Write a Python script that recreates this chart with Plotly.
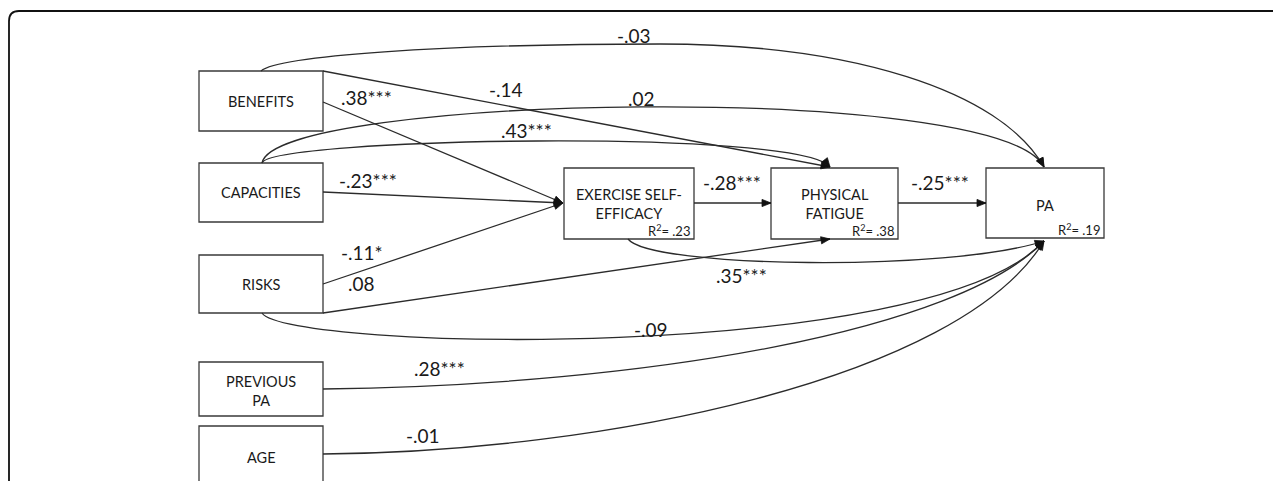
import plotly.graph_objects as go

# ---------------- data ----------------
node_names = ["BENEFITS", "CAPACITIES", "RISKS", "PREVIOUS<br>PA", "AGE",
              "EXERCISE SELF-<br>EFFICACY", "PHYSICAL<br>FATIGUE", "PA"]
r2_nodes = ["EXERCISE SELF-<br>EFFICACY", "PHYSICAL<br>FATIGUE", "PA"]
r2_values = [".23", ".38", ".19"]

path_from = ["BENEFITS", "BENEFITS", "BENEFITS", "CAPACITIES", "CAPACITIES", "CAPACITIES",
             "RISKS", "RISKS", "RISKS", "EXERCISE SELF-<br>EFFICACY", "EXERCISE SELF-<br>EFFICACY",
             "PHYSICAL<br>FATIGUE", "PREVIOUS<br>PA", "AGE"]
path_to = ["PA", "EXERCISE SELF-<br>EFFICACY", "PHYSICAL<br>FATIGUE", "PA", "PHYSICAL<br>FATIGUE",
           "EXERCISE SELF-<br>EFFICACY", "EXERCISE SELF-<br>EFFICACY", "PHYSICAL<br>FATIGUE", "PA",
           "PHYSICAL<br>FATIGUE", "PA", "PA", "PA", "PA"]
path_coef = ["-.03", ".38***", "-.14", ".02", ".43***", "-.23***",
             "-.11*", ".08", "-.09", "-.28***", ".35***", "-.25***", ".28***", "-.01"]

# ---------------- geometry (pixel coordinates of the page) ----------------
W, H = 1281, 481
PAGE_OFF = 8  # default body margin of the html page
boxes = {  # x0, y0, x1, y1
    "BENEFITS": (199, 71, 323, 131),
    "CAPACITIES": (199, 163, 323, 222),
    "RISKS": (199, 255, 323, 313),
    "PREVIOUS<br>PA": (199, 362, 323, 416),
    "AGE": (199, 426, 323, 520),
    "EXERCISE SELF-<br>EFFICACY": (564, 168, 694, 239),
    "PHYSICAL<br>FATIGUE": (771, 168, 898, 239),
    "PA": (986, 168, 1104, 238),
}
text_y = {"AGE": 457, "PA": 205, "EXERCISE SELF-<br>EFFICACY": 204,
          "PHYSICAL<br>FATIGUE": 204, "PREVIOUS<br>PA": 391}

# each path: list of segments; a segment is straight [p0, p1] or cubic [p0, c1, c2, p3]
geom = [
    [[(261, 71), (278, 56), (440, 44), (660, 44)], [(660, 44), (850, 44), (1000, 90), (1044, 167)]],
    [[(323, 102), (563, 203)]],
    [[(323, 71), (830, 167)]],
    [[(262, 163), (275, 95), (1000, 80), (1044, 167)]],
    [[(262, 163), (270, 138), (800, 128), (830, 167)]],
    [[(323, 192), (563, 203)]],
    [[(323, 284), (563, 203)]],
    [[(323, 313), (830, 239)]],
    [[(262, 313), (285, 350), (930, 365), (1044, 241)]],
    [[(694, 203), (771, 203)]],
    [[(628, 239), (650, 268), (950, 272), (1044, 241)]],
    [[(898, 203), (986, 203)]],
    [[(323, 389), (650, 385), (960, 330), (1044, 241)]],
    [[(323, 454), (600, 452), (960, 380), (1044, 241)]],
]
label_pos = [(634, 35), (366, 97), (506, 89), (641, 98), (526, 130), (368, 180),
             (362, 252), (361, 283), (651, 329), (732, 182), (741, 275), (940, 182),
             (439, 368), (423, 435)]

LINE = "#2b2b2b"
TXT = "#1a1a1a"
BOX_FONT = "Lato, sans-serif"
COEF_FONT = "Lato, sans-serif"

fig = go.Figure()
fig.add_trace(go.Scatter(x=[PAGE_OFF, W], y=[PAGE_OFF, H], mode="markers",
                         marker=dict(opacity=0), hoverinfo="skip", showlegend=False))

shapes = []
annotations = []

# outer frame: left side, rounded top-left corner, top running off to the right
L, T, rr, B, R = 9, 11, 10, 540, 1400
shapes.append(dict(type="path", xref="x", yref="y",
                   path=f"M {L},{B} L {L},{T+rr} Q {L},{T} {L+rr},{T} L {R},{T}",
                   line=dict(color="#111", width=1.8)))

# boxes and their labels
for name in node_names:
    x0, y0, x1, y1 = boxes[name]
    shapes.append(dict(type="rect", xref="x", yref="y", x0=x0, y0=y0, x1=x1, y1=y1,
                       line=dict(color="#3a3a3a", width=1.3), fillcolor="rgba(0,0,0,0)"))
    cy = text_y.get(name, (y0 + y1) / 2)
    annotations.append(dict(x=(x0 + x1) / 2, y=cy, xref="x", yref="y", text=name,
                            showarrow=False,
                            font=dict(family=BOX_FONT, size=14.5, color=TXT)))

for name, v in zip(r2_nodes, r2_values):
    x0, y0, x1, y1 = boxes[name]
    annotations.append(dict(x=x1 - 2, y=y1 - 9, xref="x", yref="y", xanchor="right",
                            text=f"R<sup>2</sup>= {v}", showarrow=False,
                            font=dict(family=BOX_FONT, size=13, color=TXT)))


def fmt(p):
    return f"{p[0]},{p[1]}"


# paths with arrowheads and coefficient labels
for segs, coef, (lx, ly) in zip(geom, path_coef, label_pos):
    d = f"M {fmt(segs[0][0])}"
    for s in segs:
        if len(s) == 2:
            d += f" L {fmt(s[1])}"
        else:
            d += f" C {fmt(s[1])} {fmt(s[2])} {fmt(s[3])}"
    last = segs[-1]
    hx, hy = last[-1]
    tx, ty = hx - last[-2][0], hy - last[-2][1]
    n = (tx ** 2 + ty ** 2) ** 0.5
    ux, uy = tx / n, ty / n
    ln, hw = 9, 3.6
    bx, by = hx - ux * ln, hy - uy * ln
    shapes.append(dict(type="path", xref="x", yref="y", path=d,
                       line=dict(color=LINE, width=1.3)))
    tri = (f"M {hx},{hy} L {bx - uy * hw:.2f},{by + ux * hw:.2f} "
           f"L {bx + uy * hw:.2f},{by - ux * hw:.2f} Z")
    shapes.append(dict(type="path", xref="x", yref="y", path=tri,
                       line=dict(color="#111", width=0.8), fillcolor="#111"))
    annotations.append(dict(x=lx, y=ly, xref="x", yref="y", text=coef, showarrow=False,
                            font=dict(family=COEF_FONT, size=19, color=TXT)))

fig.update_layout(
    width=W - PAGE_OFF, height=H - PAGE_OFF, margin=dict(l=0, r=0, t=0, b=0),
    paper_bgcolor="white", plot_bgcolor="white",
    xaxis=dict(range=[PAGE_OFF, W], visible=False, fixedrange=True),
    yaxis=dict(range=[H, PAGE_OFF], visible=False, fixedrange=True),
    shapes=shapes, annotations=annotations, showlegend=False,
)
fig.write_html("out.html")
